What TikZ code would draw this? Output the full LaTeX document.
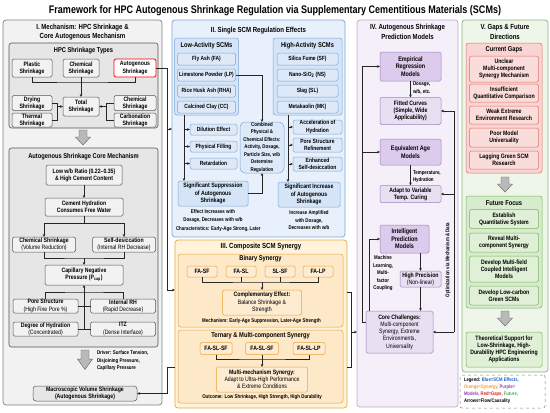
\documentclass[tikz,border=0pt]{standalone}
\usepackage{fontspec}
\setmainfont{Liberation Sans}[FakeStretch=0.82]
\usetikzlibrary{arrows.meta}

\definecolor{gline}{HTML}{555555}
\definecolor{gfill}{HTML}{F2F2F2}
\definecolor{gin}{HTML}{E6E6E6}
\definecolor{bfill}{HTML}{E8F1FB}
\definecolor{bline}{HTML}{7EA6D8}
\definecolor{bgrp}{HTML}{D5E5F7}
\definecolor{bbox}{HTML}{DDE9F8}
\definecolor{ofill}{HTML}{FFF3DC}
\definecolor{oline}{HTML}{EAA53A}
\definecolor{ogrp}{HTML}{FDE8C8}
\definecolor{obox}{HTML}{FDEBD2}
\definecolor{pfill}{HTML}{F4EFF8}
\definecolor{pline}{HTML}{9C84BD}
\definecolor{pmod}{HTML}{DCCBEC}
\definecolor{pbox}{HTML}{E9DFF3}
\definecolor{vfill}{HTML}{EEF6E9}
\definecolor{vline}{HTML}{8DB07C}
\definecolor{rfill}{HTML}{F8D5D2}
\definecolor{rline}{HTML}{E0706A}
\definecolor{rbox}{HTML}{FADDDA}
\definecolor{gnfill}{HTML}{D7ECCD}
\definecolor{gnline}{HTML}{79B35F}
\definecolor{gnbox}{HTML}{DFF0D7}
\definecolor{lgblue}{HTML}{1F5FBF}
\definecolor{lgorange}{HTML}{F0A030}
\definecolor{lgpurple}{HTML}{8E44AD}
\definecolor{lgred}{HTML}{E02020}
\definecolor{lggreen}{HTML}{4CAF50}

\newcommand\ftitle{\fontsize{11}{12}\selectfont\bfseries}
\newcommand\fhead{\fontsize{7.4}{9.5}\selectfont\bfseries}
\newcommand\fgroup{\fontsize{7}{8}\selectfont\bfseries}
\newcommand\fmodel{\fontsize{6.6}{7.6}\selectfont\bfseries}
\newcommand\fnode{\fontsize{6.3}{7.2}\selectfont\bfseries}
\newcommand\fscm{\fontsize{6}{7.2}\selectfont\bfseries}
\newcommand\fnote{\fontsize{5.4}{7.5}\selectfont\bfseries}
\newcommand\flegend{\fontsize{5.1}{7.2}\selectfont\bfseries}

\begin{document}
\begin{tikzpicture}[x=1pt, y=-1pt,
    wh/.style 2 args={minimum width=#1, minimum height=#2},
    base/.style={draw, inner sep=0pt, outer sep=0pt, align=center, rounded corners=1.5pt, line width=.5pt},
    col/.style={base, rounded corners=3pt, line width=.7pt},
    grayc/.style={col, fill=gfill, draw=gray},
    grayin/.style={base, fill=gin, draw=gline, rounded corners=2.5pt, line width=.6pt},
    graybox/.style={base, fill=gfill, draw=gline, font=\fnode},
    redbox/.style={base, fill=white, draw=red, line width=.9pt, font=\fnode},
    bluec/.style={col, fill=bfill, draw=bline},
    bluegrp/.style={base, fill=bgrp, draw=bline, rounded corners=2.5pt},
    bluebox/.style={base, fill=bbox, draw=bline, font=\fscm},
    orangec/.style={col, fill=ofill, draw=oline},
    orangegrp/.style={base, fill=ogrp, draw=oline, rounded corners=2.5pt},
    orangebox/.style={base, fill=obox, draw=oline, font=\fnode},
    purplec/.style={col, fill=pfill, draw=pline!70},
    modelbox/.style={base, fill=pmod, draw=pline, font=\fmodel},
    purplebox/.style={base, fill=pbox, draw=pline, font=\fnode},
    greenc/.style={col, fill=vfill, draw=vline},
    redgrp/.style={base, fill=rfill, draw=rline, rounded corners=2.5pt},
    gapbox/.style={base, fill=rbox, draw=rline, font=\fnode},
    greengrp/.style={base, fill=gnfill, draw=gnline, rounded corners=2.5pt},
    focusbox/.style={base, fill=gnbox, draw=gnline, font=\fnode},
    txt/.style={inner sep=0pt, outer sep=0pt, align=center},
    flow/.style={draw=black!85, line width=.6pt, -{Stealth[length=3pt, width=2.6pt]}},
    link/.style={draw=black!85, line width=.6pt},
    gdown/.pic={\filldraw[fill=gray!55, draw=gray!75!black, line width=.4pt]
      (-4,0) -- (4,0) -- (4,7) -- (7.5,7) -- (0,15) -- (-7.5,7) -- (-4,7) -- cycle;}]
  \useasboundingbox (0,0) rectangle (550,413);
  \node[txt, font=\ftitle] (title) at (275,11) {Framework for HPC Autogenous Shrinkage Regulation via Supplementary Cementitious Materials (SCMs)};

  % I. mechanism
  \node[grayc, wh={159}{385}] (colI) at (82.5,212.5) {};
  \node[txt, font=\fhead] (colItitle) at (82.5,32) {I. Mechanism: HPC Shrinkage \&\\Core Autogenous Mechanism};
  \node[grayin, wh={149}{85}] (types) at (83.5,85.5) {};
  \node[txt, font=\fgroup] (typestitle) at (83.5,51) {HPC Shrinkage Types};
  \node[graybox, wh={40}{18}] (plastic) at (32,68) {Plastic\\Shrinkage};
  \node[graybox, wh={36}{18}] (chemical) at (81,68) {Chemical\\Shrinkage};
  \node[redbox, wh={42}{18}] (autog) at (135,68) {Autogenous\\Shrinkage};
  \node[graybox, wh={40}{15}] (drying) at (32,103) {Drying\\Shrinkage};
  \node[graybox, wh={40}{14}] (thermal) at (32,120) {Thermal\\Shrinkage};
  \node[graybox, wh={36}{19}] (total) at (81,106.5) {Total\\Shrinkage};
  \node[graybox, wh={42}{15}] (chemtwo) at (135,103) {Chemical\\Shrinkage};
  \node[graybox, wh={42}{14}] (carbon) at (135,120) {Carbonation\\Shrinkage};
  \coordinate (tj) at (81,82);
  \coordinate (lj) at (57,106.5);
  \coordinate (rj) at (106,106.5);
  \draw[link] (plastic.south) |- (tj) -| (autog.south);
  \draw[flow] (chemical.south) -- (total.north);
  \draw[link] (drying.east) -| (lj);
  \draw[link] (thermal.east) -| (lj);
  \draw[flow] (lj) -- (total.west);
  \draw[link] (chemtwo.west) -| (rj);
  \draw[link] (carbon.west) -| (rj);
  \draw[flow] (rj) -- (total.east);
  \pic at (83,130) {gdown};

  \node[grayin, wh={149}{199}] (core) at (83.5,247.5) {};
  \node[txt, font=\fgroup] (coretitle) at (83.5,157) {Autogenous Shrinkage Core Mechanism};
  \node[graybox, wh={76}{20}] (lowwb) at (84,175) {Low w/b Ratio (0.22–0.35)\\\& High Cement Content};
  \node[graybox, wh={78}{18}] (hydration) at (84,207) {Cement Hydration\\Consumes Free Water};
  \node[graybox, wh={63}{15}] (chemsh) at (44,244.5) {Chemical Shrinkage\\\mdseries(Volume Reduction)};
  \node[graybox, wh={63}{15}] (selfdes) at (124,244.5) {Self-desiccation\\\mdseries(Internal RH Decrease)};
  \node[graybox, wh={78}{20}] (capillary) at (84,275) {Capillary Negative\\Pressure (P\textsubscript{cap})};
  \node[graybox, wh={65}{14}] (pore) at (45.5,306) {Pore Structure\\\mdseries(High Fine Pore \%)};
  \node[graybox, wh={65}{14}] (intrh) at (123,306) {Internal RH\\\mdseries(Rapid Decrease)};
  \node[graybox, wh={65}{14}] (degree) at (45.5,329) {Degree of Hydration\\\mdseries(Concentrated)};
  \node[graybox, wh={65}{14}] (itz) at (123,329) {ITZ\\\mdseries(Dense Interface)};
  \coordinate (hs) at (84,223);
  \coordinate (cj) at (84,258);
  \coordinate (fj) at (84,292);
  \coordinate (fb) at (84,329);
  \draw[flow] (lowwb.south) -- (hydration.north);
  \draw[link] (hydration.south) -- (hs);
  \draw[flow] (hs) -| (chemsh.north);
  \draw[flow] (hs) -| (selfdes.north);
  \draw[link] (chemsh.south) |- (cj) -| (selfdes.south);
  \draw[flow] (cj) -- (capillary.north);
  \draw[link] (pore.north) |- (fj) -| (intrh.north);
  \draw[link] (fj) -- (fb);
  \draw[flow] (fj) -- (capillary.south);
  \draw[link] (pore.east) -- (intrh.west);
  \draw[link] (degree.east) -- (itz.west);
  \pic[yscale=1.3] at (85,350) {gdown};
  \node[txt, anchor=west, align=left, font=\fnote] (driver) at (97,361) {Driver: Surface Tension,\\Disjoining Pressure,\\Capillary Pressure};
  \node[graybox, fill=gin, rounded corners=3pt, wh={104}{15}] (macro) at (85,393.5) {Macroscopic Volume Shrinkage\\(Autogenous Shrinkage)};

  % II. single SCM
  \node[bluec, wh={173}{217}] (colII) at (258.5,128.5) {};
  \node[txt, font=\fhead] (colIItitle) at (258.5,31) {II. Single SCM Regulation Effects};
  \node[bluegrp, wh={64}{77}] (low) at (206.5,76.5) {};
  \node[txt, font=\fgroup] (lowtitle) at (206.5,46) {Low-Activity SCMs};
  \node[bluebox, wh={58}{12}] (fa) at (206.5,59) {Fly Ash (FA)};
  \node[bluebox, wh={58}{12}] (lp) at (206.5,75) {Limestone Powder (LP)};
  \node[bluebox, wh={58}{12}] (rha) at (206.5,91) {Rice Husk Ash (RHA)};
  \node[bluebox, wh={58}{12}] (cc) at (206.5,107) {Calcined Clay (CC)};
  \node[bluegrp, wh={69}{77}] (high) at (307.5,76.5) {};
  \node[txt, font=\fgroup] (hightitle) at (307.5,46) {High-Activity SCMs};
  \node[bluebox, wh={61}{12}] (sf) at (307.5,59) {Silica Fume (SF)};
  \node[bluebox, wh={61}{12}] (ns) at (307.5,75) {Nano-SiO\textsubscript{2} (NS)};
  \node[bluebox, wh={61}{12}] (sl) at (307.5,91) {Slag (SL)};
  \node[bluebox, wh={61}{12}] (mk) at (307.5,107) {Metakaolin (MK)};
  \node[bluebox, wh={47}{11}] (dilution) at (213.5,129.5) {Dilution Effect};
  \node[bluebox, wh={47}{11}] (filling) at (213.5,146.5) {Physical Filling};
  \node[bluebox, wh={47}{11}] (retard) at (213.5,163.5) {Retardation};
  \node[bluebox, rounded corners=5pt, font=\fnote, wh={44}{51}] (combined) at (262,147.5) {Combined\\Physical \&\\Chemical Effects:\\Activity, Dosage,\\Particle Size, w/b\\Determine\\Regulation};
  \node[bluebox, fill=bgrp, font=\fnode, wh={70}{25}] (suppress) at (213,193.5) {Significant Suppression\\of Autogenous\\Shrinkage};
  \node[bluebox, wh={49}{14}] (accel) at (317.5,127) {Acceleration of\\Hydration};
  \node[bluebox, wh={49}{14}] (refine) at (317.5,145) {Pore Structure\\Refinement};
  \node[bluebox, wh={49}{14}] (enhanced) at (317.5,164) {Enhanced\\Self-desiccation};
  \node[bluebox, fill=bgrp, font=\fnode, wh={62}{25}] (increase) at (309,194.5) {Significant Increase\\of Autogenous\\Shrinkage};
  \coordinate (lv) at (184,115);
  \coordinate (hv) at (288,115);
  \draw[flow] (lv) -- (lv |- suppress.north);
  \draw[flow] (lv |- dilution.west) -- (dilution.west);
  \draw[flow] (lv |- filling.west) -- (filling.west);
  \draw[flow] (lv |- retard.west) -- (retard.west);
  \draw[flow] (hv) -- (hv |- increase.north);
  \draw[flow] (hv |- accel.west) -- (accel.west);
  \draw[flow] (hv |- refine.west) -- (refine.west);
  \draw[flow] (hv |- enhanced.west) -- (enhanced.west);
  \draw[flow] (lp.east) -| (combined.north);
  \draw[flow] (suppress.east) -| (combined.south);
  \node[txt, font=\fnote] (lownote) at (213,216) {Effect Increases with\\Dosage, Decreases with w/b};
  \node[txt, anchor=west, font=\fnote] (lowchar) at (176,229) {Characteristics: Early-Age Strong, Later};
  \node[txt, font=\fnote] (highnote) at (309,220.5) {Increase Amplified\\with Dosage,\\Decreases with w/b};

  % III. composite
  \node[orangec, wh={172}{168}] (colIII) at (261,324) {};
  \node[txt, font=\fhead] (colIIItitle) at (261,247) {III. Composite SCM Synergy};
  \node[orangegrp, wh={165}{73}] (binary) at (260.5,290.5) {};
  \node[txt, font=\fgroup] (binarytitle) at (260.5,259) {Binary Synergy};
  \node[orangebox, wh={30}{11}] (fasf) at (202,271.5) {FA-SF};
  \node[orangebox, wh={30}{11}] (fasl) at (241,271.5) {FA-SL};
  \node[orangebox, wh={30}{11}] (slsf) at (280,271.5) {SL-SF};
  \node[orangebox, wh={30}{11}] (falp) at (318,271.5) {FA-LP};
  \node[orangebox, wh={79}{25}] (comp) at (262,302.5) {Complementary Effect:\\\mdseries Balance Shrinkage \&\\\mdseries Strength};
  \coordinate (bj) at (262,282);
  \draw[link] (fasf.south) |- (bj) -| (falp.south);
  \draw[link] (fasl.south) -- (fasl.south |- bj);
  \draw[link] (slsf.south) -- (slsf.south |- bj);
  \draw[flow] (bj) -- (comp.north);
  \node[txt, font=\fnote] (mechnote) at (261.5,321) {Mechanism: Early-Age Suppression, Later-Age Strength};
  \node[orangegrp, wh={165}{73}] (ternary) at (260.5,366.5) {};
  \node[txt, font=\fgroup] (ternarytitle) at (260.5,336) {Ternary \& Multi-component Synergy};
  \node[orangebox, wh={32}{12}] (tone) at (216,348.5) {FA-SL-SF};
  \node[orangebox, wh={33}{12}] (ttwo) at (262,348.5) {FA-SL-SF};
  \node[orangebox, wh={32}{12}] (tthree) at (309,348.5) {FA-SL-LP};
  \node[orangebox, wh={91}{25}] (multi) at (262,379.5) {Multi-mechanism Synergy:\\\mdseries Adapt to Ultra-High Performance\\\mdseries\& Extreme Conditions};
  \coordinate (tj3) at (262,359);
  \draw[link] (tone.south) |- (tj3) -| (tthree.south);
  \draw[link] (ttwo.south) -- (tj3);
  \draw[flow] (tj3) -- (multi.north);
  \node[txt, font=\fnote] (outnote) at (262,397.5) {Outcome: Low Shrinkage, High Strength, High Durability};

  % links between I, II and III
  \coordinate (toII) at (167,129);
  \coordinate (toIII) at (167,290);
  \coordinate (fromIII) at (167,367);
  \draw[link] (autog.east) -| (toIII);
  \draw[flow] (toII) -- (toII -| colII.west);
  \draw[flow] (toIII) -- (toIII -| colIII.west);
  \draw[link] (fromIII -| colIII.west) -- (fromIII);
  \draw[flow] (fromIII) |- (macro.east);

  % IV. prediction models
  \node[purplec, wh={101}{387}] (colIV) at (407.5,213.5) {};
  \node[txt, font=\fhead] (colIVtitle) at (407.5,32) {IV. Autogenous Shrinkage\\Prediction Models};
  \node[modelbox, wh={61}{29}] (empirical) at (410.5,66.5) {Empirical\\Regression\\Models};
  \node[purplebox, wh={61}{27}] (fitted) at (410.5,111) {Fitted Curves\\(Simple, Wide\\Applicability)};
  \node[modelbox, wh={61}{26}] (equiv) at (410.5,152) {Equivalent Age\\Models};
  \node[purplebox, wh={61}{17}] (adapt) at (410.5,194) {Adapt to Variable\\Temp. Curing};
  \node[modelbox, wh={49}{28}] (intel) at (404.5,239) {Intelligent\\Prediction\\Models};
  \node[purplebox, wh={41}{16}] (highp) at (420.5,279) {High Precision\\\mdseries(Non-linear)};
  \node[purplebox, wh={67}{42}] (corech) at (399.5,332) {Core Challenges:\\\mdseries Multi-component\\\mdseries Synergy, Extreme\\\mdseries Environments,\\\mdseries Universality};
  \node[txt, anchor=west, align=left, font=\fnote] (dosagelbl) at (413,88) {Dosage,\\w/b, etc.};
  \node[txt, anchor=west, align=left, font=\fnote] (templbl) at (413,176.5) {Temperature,\\Hydration};
  \node[txt, font=\fnote] (mllbl) at (383,273.5) {Machine\\Learning,\\Multi-\\factor\\Coupling};
  \draw[flow] (empirical.south) -- (fitted.north);
  \draw[flow] (equiv.south) -- (adapt.north);
  \draw[flow] (highp.north |- intel.south) -- (highp.north);
  \draw[flow] (highp.south) -- (highp.south |- corech.north);
  \coordinate (optop) at (454,111);
  \coordinate (opbot) at (454,332);
  \draw[link] (optop) -- (opbot);
  \draw[flow] (optop) -- (fitted.east);
  \draw[flow] (optop |- adapt.east) -- (adapt.east);
  \draw[flow] (opbot) -- (corech.east);
  \node[txt, rotate=90, font=\fnote] (optlbl) at (448,260) {Optimization via Mechanism \& Data};
  \coordinate (la) at (362,322);
  \coordinate (lb) at (369,311);
  \draw[link] (la -| corech.west) -- (la);
  \draw[flow] (la) |- (empirical.west);
  \draw[flow] (la |- equiv.west) -- (equiv.west);
  \draw[flow] (lb) |- (intel.west);
  \coordinate (brtop) at (351,292);
  \coordinate (brbot) at (351,367);
  \coordinate (brmid) at (351,332);
  \draw[link] (brtop -| colIII.east) -- (brtop) -- (brbot) -- (brbot -| colIII.east);
  \draw[flow] (brmid) -- (brmid -| colIV.west);

  % V. gaps and future
  \node[greenc, wh={86}{352}] (colV) at (505,196) {};
  \node[txt, font=\fhead] (colVtitle) at (505,32) {V. Gaps \& Future\\Directions};
  \node[redgrp, wh={76}{130}] (gaps) at (504,108) {};
  \node[txt, font=\fgroup] (gapstitle) at (504,50) {Current Gaps};
  \node[gapbox, wh={69}{26}] (gone) at (504,69) {Unclear\\Multi-component\\Synergy Mechanism};
  \node[gapbox, wh={69}{18}] (gtwo) at (504,93) {Insufficient\\Quantitative Comparison};
  \node[gapbox, wh={69}{18}] (gthree) at (504,115) {Weak Extreme\\Environment Research};
  \node[gapbox, wh={69}{19}] (gfour) at (504,137.5) {Poor Model\\Universality};
  \node[gapbox, wh={69}{18}] (gfive) at (504,160) {Lagging Green SCM\\Research};
  \pic at (505,177) {gdown};
  \node[greengrp, wh={76}{112}] (future) at (504,252) {};
  \node[txt, font=\fgroup] (futuretitle) at (504,203) {Future Focus};
  \node[focusbox, wh={69}{19}] (fone) at (504,219) {Establish\\Quantitative System};
  \node[focusbox, wh={69}{19}] (ftwo) at (504,242.5) {Reveal Multi-\\component Synergy};
  \node[focusbox, wh={69}{26}] (fthree) at (504,269) {Develop Multi-field\\Coupled Intelligent\\Models};
  \node[focusbox, wh={69}{19}] (ffour) at (504,295.5) {Develop Low-carbon\\Green SCMs};
  \pic at (505,311) {gdown};
  \node[focusbox, wh={76}{35}] (theory) at (504,349.5) {Theoretical Support for\\Low-Shrinkage, High-\\Durability HPC Engineering\\Applications};
  \node[base, dashed, draw=gray, fill=white, wh={85}{33}, rounded corners=2pt] (legend) at (502.5,391.5) {};
  \node[txt, anchor=north west, align=left, font=\flegend] (legendtxt) at (464,377.5) {Legend: \textcolor{lgblue}{Blue=SCM Effects,}\\\textcolor{lgorange}{Orange=Synergy,} \textcolor{lgpurple}{Purple=}\\\textcolor{lgpurple}{Models,} \textcolor{lgred}{Red=Gaps,} \textcolor{lggreen}{Future,}\\Arrows=Flow/Causality};
\end{tikzpicture}
\end{document}
